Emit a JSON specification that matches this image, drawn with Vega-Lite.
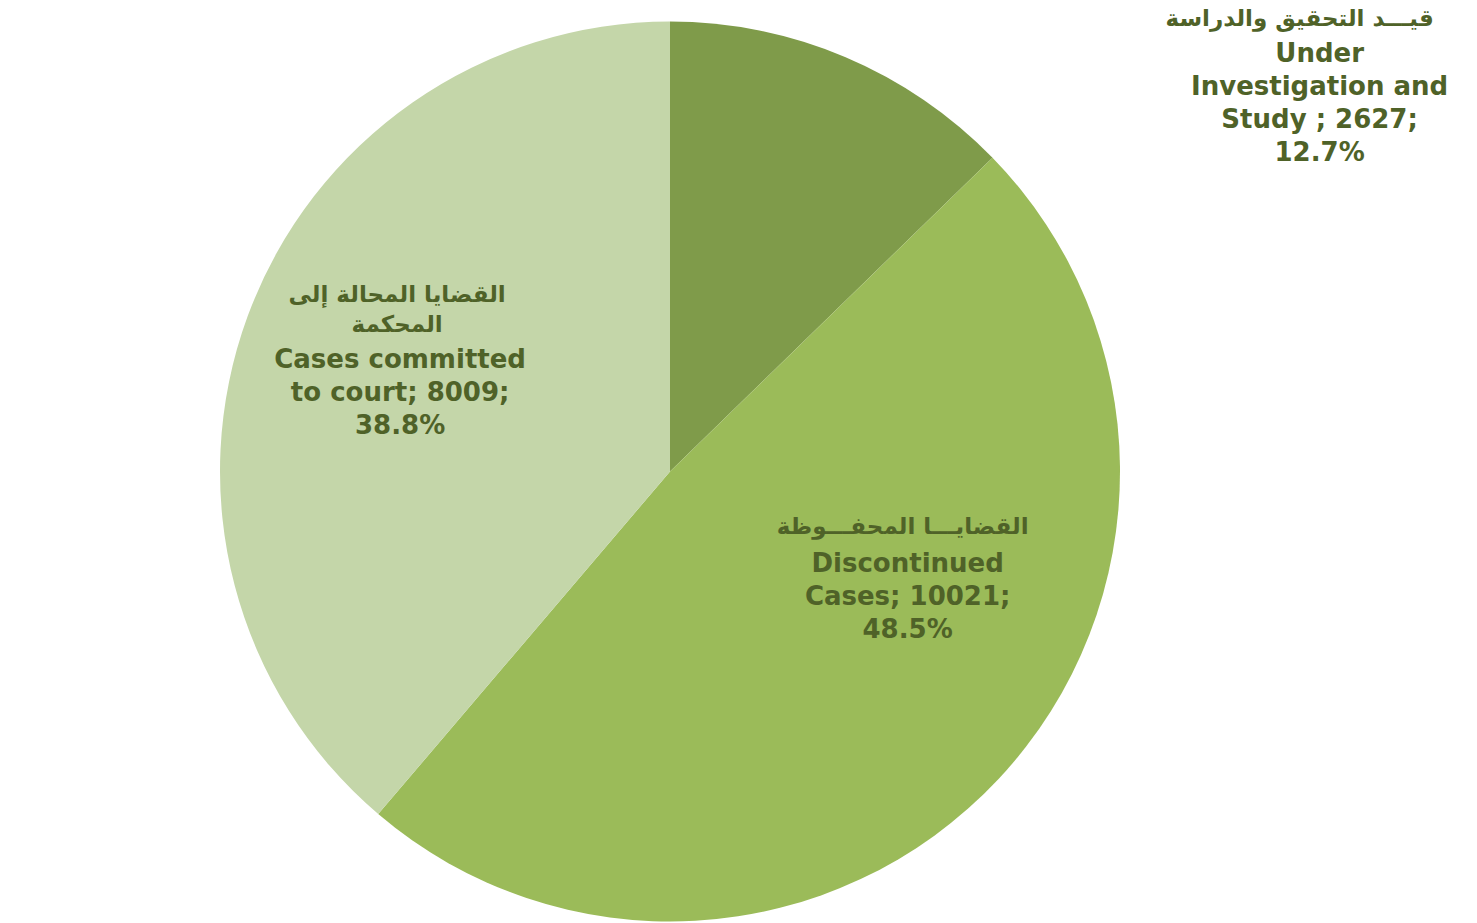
{
  "$schema": "https://vega.github.io/schema/vega-lite/v6.json",
  "width": 1340,
  "height": 903,
  "autosize": {"type": "none"},
  "padding": {"left": 0, "right": 137, "top": 20, "bottom": 0},
  "background": "white",
  "config": {"view": {"stroke": null}},
  "data": {
    "values": [
      {"idx": 1, "category": "Under Investigation and Study", "ar": "قيـــد التحقيق والدراسة", "en": "Under\nInvestigation and\nStudy   ; 2627;\n12.7%", "value": 2627},
      {"idx": 2, "category": "Discontinued Cases", "ar": "القضايـــا المحفـــوظة", "en": "Discontinued\nCases; 10021;\n48.5%", "value": 10021},
      {"idx": 3, "category": "Cases committed to court", "ar": "القضايا المحالة إلى\nالمحكمة", "en": "Cases committed\nto court; 8009;\n38.8%", "value": 8009}
    ]
  },
  "transform": [
    {"stack": "value", "groupby": [], "sort": [{"field": "idx", "order": "ascending"}], "as": ["s0", "s1"]}
  ],
  "layer": [
    {
      "mark": {"type": "arc", "radius": 450},
      "encoding": {
        "theta": {"field": "s0", "type": "quantitative", "stack": null, "scale": {"domain": [0, 20657]}},
        "theta2": {"field": "s1"},
        "color": {
          "field": "category",
          "type": "nominal",
          "scale": {
            "domain": ["Under Investigation and Study", "Discontinued Cases", "Cases committed to court"],
            "range": ["#7F9B4A", "#9BBB59", "#C4D6A9"]
          },
          "legend": null
        }
      }
    },
    {
      "transform": [{"filter": "datum.idx == 1"}],
      "mark": {"type": "text", "radius": 772, "thetaOffset": 1.0, "font": "DejaVu Sans", "fontWeight": "bold", "fontSize": 26, "lineHeight": 33, "lineBreak": "\n", "color": "#4F6228", "align": "center", "baseline": "middle"},
      "encoding": {
        "theta": {"field": "s0", "type": "quantitative", "stack": null, "scale": {"domain": [0, 20657]}},
        "text": {"field": "en", "type": "nominal"}
      }
    },
    {
      "transform": [{"filter": "datum.idx == 1"}],
      "mark": {"type": "text", "radius": 772, "thetaOffset": 1.0, "dx": -20, "dy": -35, "font": "DejaVu Sans", "fontWeight": "bold", "fontSize": 23, "lineHeight": 30, "lineBreak": "\n", "color": "#4F6228", "align": "center", "baseline": "middle"},
      "encoding": {
        "theta": {"field": "s0", "type": "quantitative", "stack": null, "scale": {"domain": [0, 20657]}},
        "text": {"field": "ar", "type": "nominal"}
      }
    },
    {
      "transform": [{"filter": "datum.idx == 2"}],
      "mark": {"type": "text", "radius": 255, "thetaOffset": 1.143, "font": "DejaVu Sans", "fontWeight": "bold", "fontSize": 26, "lineHeight": 33, "lineBreak": "\n", "color": "#4F6228", "align": "center", "baseline": "middle"},
      "encoding": {
        "theta": {"field": "s0", "type": "quantitative", "stack": null, "scale": {"domain": [0, 20657]}},
        "text": {"field": "en", "type": "nominal"}
      }
    },
    {
      "transform": [{"filter": "datum.idx == 2"}],
      "mark": {"type": "text", "radius": 255, "thetaOffset": 1.143, "dx": -5, "dy": -37, "font": "DejaVu Sans", "fontWeight": "bold", "fontSize": 23, "lineHeight": 30, "lineBreak": "\n", "color": "#4F6228", "align": "center", "baseline": "middle"},
      "encoding": {
        "theta": {"field": "s0", "type": "quantitative", "stack": null, "scale": {"domain": [0, 20657]}},
        "text": {"field": "ar", "type": "nominal"}
      }
    },
    {
      "transform": [{"filter": "datum.idx == 3"}],
      "mark": {"type": "text", "radius": 292, "thetaOffset": 1.257, "font": "DejaVu Sans", "fontWeight": "bold", "fontSize": 26, "lineHeight": 33, "lineBreak": "\n", "color": "#4F6228", "align": "center", "baseline": "middle"},
      "encoding": {
        "theta": {"field": "s0", "type": "quantitative", "stack": null, "scale": {"domain": [0, 20657]}},
        "text": {"field": "en", "type": "nominal"}
      }
    },
    {
      "transform": [{"filter": "datum.idx == 3"}],
      "mark": {"type": "text", "radius": 292, "thetaOffset": 1.257, "dx": -3, "dy": -65, "font": "DejaVu Sans", "fontWeight": "bold", "fontSize": 23, "lineHeight": 30, "lineBreak": "\n", "color": "#4F6228", "align": "center", "baseline": "middle"},
      "encoding": {
        "theta": {"field": "s0", "type": "quantitative", "stack": null, "scale": {"domain": [0, 20657]}},
        "text": {"field": "ar", "type": "nominal"}
      }
    }
  ]
}
